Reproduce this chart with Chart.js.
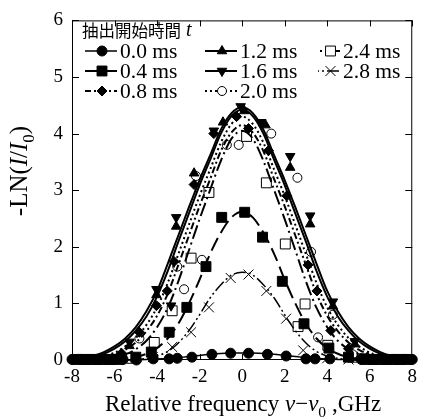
<!DOCTYPE html>
<html>
<head>
<meta charset="utf-8">
<script src="https://cdn.jsdelivr.net/npm/chart.js@4.4.0/dist/chart.umd.min.js"></script>
<style>
html, body { margin: 0; padding: 0; background: #fff; }
canvas { display: block; }
</style>
</head>
<body>
<canvas id="myChart" width="423" height="419"></canvas>
<script>
const fitX = [-8, -7.5, -7, -6.5, -6, -5.5, -5, -4.5, -4, -3.5, -3, -2.5, -2, -1.5, -1, -0.5, 0,
              0.5, 1, 1.5, 2, 2.5, 3, 3.5, 4, 4.5, 5, 5.5, 6, 6.5, 7, 7.5, 8];
const fit00 = [0,0,0,0,0,0,0.005,0.01,0.016,0.027,0.042,0.06,0.08,0.1,0.115,0.122,0.125,0.122,0.115,0.1,0.08,0.06,0.042,0.027,0.016,0.01,0.005,0,0,0,0,0,0];
const fit04 = [0,0,0,0,0.01,0.02,0.05,0.11,0.21,0.38,0.64,1.0,1.42,1.88,2.25,2.52,2.62,2.52,2.25,1.88,1.42,1.0,0.64,0.38,0.21,0.11,0.05,0.02,0.01,0,0,0,0];
const fit08 = [0,0.01,0.02,0.05,0.10,0.18,0.31,0.51,0.78,1.17,1.68,2.20,2.72,3.20,3.69,4.02,4.15,4.02,3.69,3.20,2.72,2.20,1.68,1.17,0.78,0.51,0.31,0.18,0.10,0.05,0.02,0.01,0];
const fit12 = [0.02,0.03,0.06,0.11,0.20,0.33,0.52,0.77,1.12,1.57,2.09,2.59,3.09,3.54,4.0,4.31,4.42,4.31,4.0,3.54,3.09,2.59,2.09,1.57,1.12,0.77,0.52,0.33,0.20,0.11,0.06,0.03,0.02];
const fit16 = [0.02,0.04,0.075,0.14,0.24,0.38,0.58,0.86,1.22,1.7,2.2,2.7,3.18,3.62,4.07,4.36,4.47,4.36,4.07,3.62,3.18,2.7,2.2,1.7,1.22,0.86,0.58,0.38,0.24,0.14,0.075,0.04,0.02];
const fit20 = [0.01,0.02,0.03,0.07,0.13,0.24,0.39,0.62,0.93,1.36,1.87,2.39,2.90,3.37,3.84,4.17,4.3,4.17,3.84,3.37,2.90,2.39,1.87,1.36,0.93,0.62,0.39,0.24,0.13,0.07,0.03,0.02,0.01];
const fit24 = [0,0,0.01,0.02,0.05,0.10,0.19,0.34,0.58,0.92,1.39,1.94,2.49,3.01,3.52,3.91,4.05,3.91,3.52,3.01,2.49,1.94,1.39,0.92,0.58,0.34,0.19,0.10,0.05,0.02,0.01,0,0];
const fit28 = [0,0,0,0,0,0,0.01,0.03,0.07,0.15,0.3,0.52,0.8,1.1,1.33,1.5,1.55,1.5,1.33,1.1,0.8,0.52,0.3,0.15,0.07,0.03,0.01,0,0,0,0,0,0];

// measured points
const x00 = [-8,-7.6,-7.2,-6.8,-6.4,-6.0,-5.6,-4.97,-4.18,-3.43,-3.05,-2.36,-1.42,-0.54,0.3,1.19,2.07,3.0,3.43,4.13,5.6,6.0,6.4,6.8,7.2,7.6,8];
const y00 = [0.01,0.01,0.01,0.01,0.01,0.01,0.01,0.0,0.02,0.02,0.03,0.05,0.10,0.12,0.12,0.10,0.07,0.02,0.02,0.02,0.01,0.01,0.01,0.01,0.01,0.01,0.01];
const x04 = [-7.8,-7.4,-7.0,-6.6,-6.2,-5.8,-5.0,-4.27,-3.43,-2.6,-1.7,-0.96,0.12,0.96,1.89,2.91,4.08,5.0,5.8,6.2,6.6,7.0,7.4,7.8];
const y04 = [0.01,0.01,0.01,0.01,0.01,0.01,0.05,0.14,0.49,0.93,1.65,2.52,2.61,2.17,1.39,0.64,0.21,0.05,0.01,0.01,0.01,0.01,0.01,0.01];
const x08 = [-7.9,-7.3,-6.7,-6.1,-5.67,-4.83,-4.03,-3.52,-3.2,-2.26,-1.33,-0.26,0.3,1.24,2.1,3.1,3.52,4.17,5.0,5.6,6.1,6.7,7.3,7.9];
const y08 = [0.01,0.01,0.01,0.02,0.12,0.49,0.96,1.22,1.74,3.1,4.0,4.3,4.09,3.7,2.9,1.68,1.22,0.52,0.2,0.03,0.01,0.01,0.01,0.01];
const x12 = [-7.7,-7.1,-6.5,-5.9,-5.3,-4.03,-3.1,-2.26,-0.9,0.1,1.1,2.26,3.2,4.27,5.3,5.9,6.5,7.1,7.7];
const y12 = [0.01,0.01,0.01,0.03,0.25,1.15,2.36,3.3,4.2,4.4,4.15,3.4,2.4,0.95,0.28,0.05,0.01,0.01,0.01];
const x16 = [-7.5,-6.9,-6.3,-5.7,-5.3,-4.03,-3.34,-3.1,-1.33,-0.07,0.9,2.26,3.2,4.27,5.3,5.7,6.3,6.9,7.5];
const y16 = [0.02,0.02,0.02,0.05,0.32,1.25,0.96,2.52,4.05,4.48,4.2,3.6,2.55,1.03,0.33,0.06,0.02,0.02,0.02];
const x20 = [-7.6,-7.0,-6.4,-5.67,-4.83,-3.05,-2.73,-2.17,-1.89,-0.72,-0.16,1.37,2.6,3.24,3.57,4.27,5.2,6.0,6.6,7.2,7.8];
const y20 = [0.01,0.01,0.01,0.02,0.38,1.65,1.25,3.25,1.77,3.8,3.8,4.0,3.22,1.91,0.4,0.8,0.1,0.01,0.01,0.01,0.01];
const x24 = [-7.4,-6.8,-6.2,-5.2,-4.13,-3.29,-2.4,-1.56,0.21,1.14,2.03,2.63,2.96,4.03,5.2,6.2,6.8,7.4];
const y24 = [0.01,0.01,0.01,0.03,0.31,0.87,1.8,2.96,3.95,3.13,2.05,0.59,0.99,0.26,0.05,0.01,0.01,0.01];
const x28 = [-7.0,-6.0,-4.2,-3.29,-2.4,-1.56,-0.54,0.3,1.14,2.07,2.87,4.0,5.0,6.0,7.0];
const y28 = [0.01,0.01,0.05,0.23,0.49,0.93,1.45,1.51,1.22,0.73,0.17,0.03,0.01,0.01,0.01];

const seriesNames = ['0.0 ms', '0.4 ms', '0.8 ms', '1.2 ms', '1.6 ms', '2.0 ms', '2.4 ms', '2.8 ms'];
const xTicks = [-8, -6, -4, -2, 0, 2, 4, 6, 8];
const yTicks = [0, 1, 2, 3, 4, 5, 6];

const SERIF = "'Liberation Serif', 'Times New Roman', serif";

const series = [
    { fit: fit00, px: x00, py: y00, style: 'circle',   fill: '#000', r: 5,   rot: 0,   dash: [],                 lw: 1.5 },
    { fit: fit04, px: x04, py: y04, style: 'rect',     fill: '#000', r: 7,   rot: 0,   dash: [14, 6],            lw: 2 },
    { fit: fit08, px: x08, py: y08, style: 'rectRot',  fill: '#000', r: 5,   rot: 0,   dash: [7, 3, 2, 3],       lw: 2 },
    { fit: fit12, px: x12, py: y12, style: 'triangle', fill: '#000', r: 5.5, rot: 0,   dash: [],                 lw: 2 },
    { fit: fit16, px: x16, py: y16, style: 'triangle', fill: '#000', r: 5.5, rot: 180, dash: [],                 lw: 2 },
    { fit: fit20, px: x20, py: y20, style: 'circle',   fill: '#fff', r: 4.5, rot: 0,   dash: [2, 3],             lw: 2 },
    { fit: fit24, px: x24, py: y24, style: 'rect',     fill: '#fff', r: 7,   rot: 0,   dash: [14, 4, 2, 4],      lw: 2 },
    { fit: fit28, px: x28, py: y28, style: 'crossRot', fill: '#000', r: 7,   rot: 0,   dash: [12, 3, 2, 3, 2, 3], lw: 1.5 }
];

function pts(xs, ys) {
    return xs.map((x, i) => ({ x: x, y: ys[i] }));
}

let datasets = [];
series.forEach(s => {
    datasets.push({
        type: 'line',
        data: pts(fitX, s.fit),
        borderColor: '#000',
        borderWidth: s.lw,
        borderDash: s.dash,
        pointRadius: 0,
        fill: false,
        cubicInterpolationMode: 'monotone',
        clip: 2
    });
});
series.forEach(s => {
    datasets.push({
        type: 'scatter',
        data: pts(s.px, s.py),
        pointStyle: s.style,
        pointRadius: s.r,
        pointRotation: s.rot,
        backgroundColor: s.fill,
        borderColor: '#000',
        borderWidth: 1,
        showLine: false,
        clip: false
    });
});

function richText(ctx, parts, x, y, size) {
    parts.forEach(p => {
        let sz = p.sub ? size * 0.68 : size;
        ctx.font = (p.it ? 'italic ' : '') + sz + 'px ' + SERIF;
        ctx.fillText(p.t, x, y + (p.sub ? size * 0.28 : 0));
        x += ctx.measureText(p.t).width;
    });
}
function richWidth(ctx, parts, size) {
    let w = 0;
    parts.forEach(p => {
        let sz = p.sub ? size * 0.68 : size;
        ctx.font = (p.it ? 'italic ' : '') + sz + 'px ' + SERIF;
        w += ctx.measureText(p.t).width;
    });
    return w;
}

const framePlugin = {
    id: 'frame',
    beforeDatasetsDraw(chart) {
        const ctx = chart.ctx, a = chart.chartArea;
        const xs = chart.scales.x, ys = chart.scales.y;
        ctx.save();
        ctx.strokeStyle = '#000';
        ctx.lineWidth = 1;
        ctx.strokeRect(a.left + 0.5, a.top + 0.5, a.right - a.left - 1, a.bottom - a.top - 1);
        ctx.beginPath();
        xTicks.forEach(v => {
            let p = Math.round(xs.getPixelForValue(v)) + 0.5;
            ctx.moveTo(p, a.bottom); ctx.lineTo(p, a.bottom - 6);
            ctx.moveTo(p, a.top); ctx.lineTo(p, a.top + 6);
        });
        yTicks.forEach(v => {
            let p = Math.round(ys.getPixelForValue(v)) + 0.5;
            ctx.moveTo(a.left, p); ctx.lineTo(a.left + 7, p);
            ctx.moveTo(a.right, p); ctx.lineTo(a.right - 7, p);
        });
        ctx.stroke();
        ctx.restore();
    },
    afterDraw(chart) {
        const ctx = chart.ctx;
        ctx.save();
        ctx.fillStyle = '#000';
        ctx.textBaseline = 'alphabetic';

        // x title
        const xt = [{ t: 'Relative frequency ' }, { t: 'ν', it: true }, { t: '−' }, { t: 'ν', it: true }, { t: '0', sub: true }, { t: ' ,GHz' }];
        let w = richWidth(ctx, xt, 23);
        richText(ctx, xt, 243 - w / 2, 411, 23);

        // y title
        const yt = [{ t: '-LN(' }, { t: 'I', it: true }, { t: '/' }, { t: 'I', it: true }, { t: '0', sub: true }, { t: ')' }];
        ctx.save();
        ctx.translate(27, 171);
        ctx.rotate(-Math.PI / 2);
        w = richWidth(ctx, yt, 25);
        richText(ctx, yt, -w / 2, 0, 25);
        ctx.restore();

        // legend
        ctx.textBaseline = 'middle';
        ctx.font = "16.5px 'Noto Sans CJK JP'";
        ctx.fillText('抽出開始時間', 82, 31);
        ctx.font = 'italic 20px ' + SERIF;
        ctx.fillText('t', 186, 31);

        const cols = [{ l: 85, r: 117, t: 120 }, { l: 205, r: 237, t: 240 }, { l: 318, r: 341, t: 343 }];
        const rows = [51, 71, 91];
        series.forEach((s, i) => {
            const c = cols[Math.floor(i / 3)], y = rows[i % 3];
            ctx.strokeStyle = '#000';
            ctx.lineWidth = s.lw;
            ctx.setLineDash(s.dash);
            ctx.lineDashOffset = s.dash.length > 2 ? 16 : 0;
            ctx.beginPath();
            ctx.moveTo(c.l, y); ctx.lineTo(c.r, y);
            ctx.stroke();
            ctx.setLineDash([]);
            ctx.lineWidth = 1;
            ctx.fillStyle = s.fill;
            Chart.helpers.drawPoint(ctx, { pointStyle: s.style, radius: s.r, rotation: s.rot, borderWidth: 1 }, (c.l + c.r) / 2 + 1, y);
            ctx.fillStyle = '#000';
            ctx.font = '21.5px ' + SERIF;
            ctx.fillText(seriesNames[i], c.t, y + 1);
        });
        ctx.restore();
    }
};

new Chart(document.getElementById('myChart'), {
    type: 'scatter',
    data: { datasets: datasets },
    plugins: [framePlugin],
    options: {
        responsive: false,
        animation: false,
        devicePixelRatio: 1,
        layout: { padding: { left: 0, right: 7, top: 15, bottom: 0 } },
        plugins: { legend: { display: false }, tooltip: { enabled: false } },
        scales: {
            x: {
                type: 'linear', min: -8, max: 8,
                afterBuildTicks: s => { s.ticks = xTicks.map(v => ({ value: v })); },
                afterFit: s => { s.height = 59; },
                grid: { display: false, drawTicks: false },
                border: { display: false },
                ticks: { font: { family: SERIF, size: 19 }, color: '#000', padding: 6, maxRotation: 0, autoSkip: false }
            },
            y: {
                type: 'linear', min: 0, max: 6,
                afterBuildTicks: s => { s.ticks = yTicks.map(v => ({ value: v })); },
                afterFit: s => { s.width = 72; },
                grid: { display: false, drawTicks: false },
                border: { display: false },
                ticks: { font: { family: SERIF, size: 19 }, color: '#000', padding: 9, autoSkip: false }
            }
        }
    }
});
</script>
</body>
</html>
